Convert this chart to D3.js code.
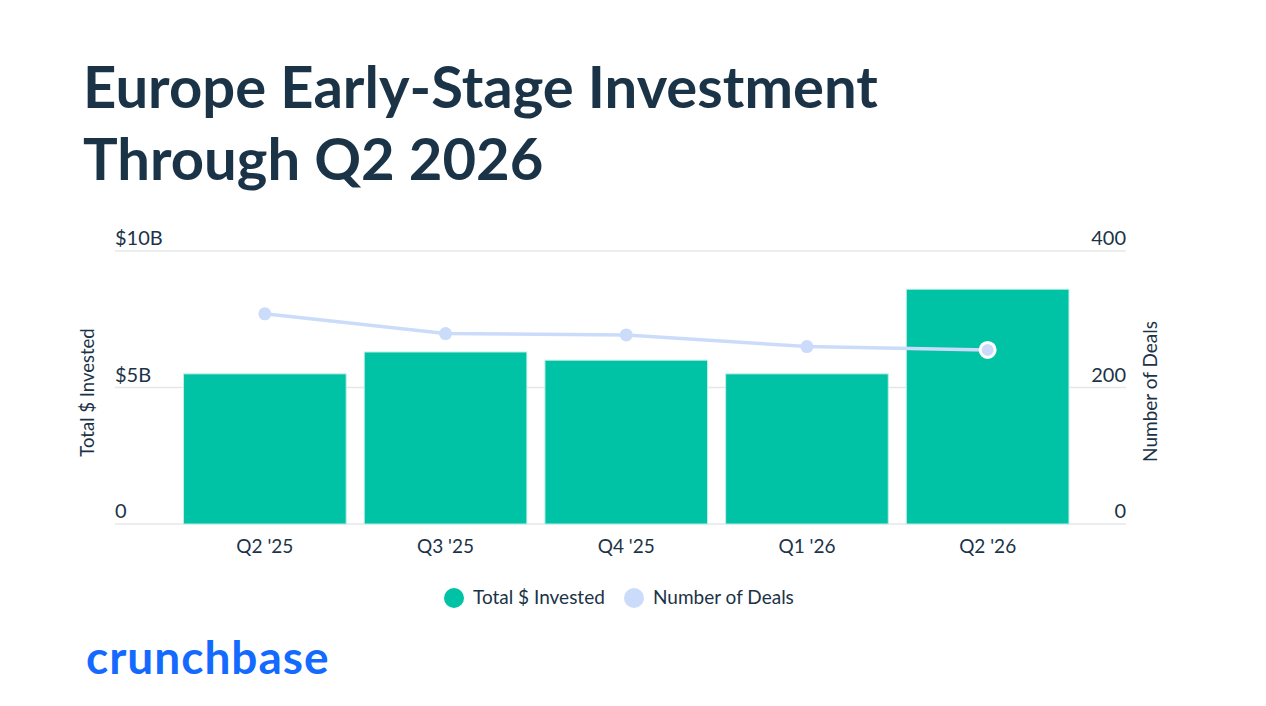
<!DOCTYPE html>
<html>
<head>
<meta charset="utf-8">
<script src="https://cdn.jsdelivr.net/npm/d3@7"></script>
<style>
  body { margin: 0; background: #fff; }
  svg { display: block; font-family: Lato, "Noto Sans", sans-serif; }
</style>
</head>
<body>
<div id="chart"></div>
<script>
// Data
const quarters = ["Q2 '25", "Q3 '25", "Q4 '25", "Q1 '26", "Q2 '26"];
const invested = [5.5, 6.3, 6.0, 5.5, 8.6];   // $B
const deals = [308, 279, 277, 260, 255];
const leftTicks = [0, 5, 10];
const rightTicks = [0, 200, 400];

const W = 1266, H = 706;
const ink = "#1b3347";

const svg = d3.select("#chart")
    .append("svg")
    .attr("width", W)
    .attr("height", H);

// Title
svg.append("text")
    .attr("x", 83)
    .attr("y", 108)
    .attr("font-size", 58)
    .attr("font-weight", 700)
    .attr("fill", ink)
    .text("Europe Early-Stage Investment");
svg.append("text")
    .attr("x", 83)
    .attr("y", 180)
    .attr("font-size", 58)
    .attr("font-weight", 700)
    .attr("fill", ink)
    .text("Through Q2 2026");

// Plot area
const plot = { left: 115, right: 1126, top: 251, bottom: 524 };

const x = d3.scaleBand()
    .domain(quarters)
    .range([174.5, 1078])
    .paddingInner(0.1)
    .paddingOuter(0.05);

const yL = d3.scaleLinear().domain([0, 10]).range([plot.bottom, plot.top]);
const yR = d3.scaleLinear().domain([0, 400]).range([plot.bottom, plot.top]);

// Gridlines
svg.append("g")
    .selectAll("line")
    .data(leftTicks)
    .join("line")
    .attr("x1", plot.left)
    .attr("x2", plot.right)
    .attr("y1", d => yL(d))
    .attr("y2", d => yL(d))
    .attr("stroke", "#e5e7ea")
    .attr("stroke-width", 1.5);

// Left tick labels
svg.append("g")
    .selectAll("text")
    .data(leftTicks)
    .join("text")
    .attr("x", plot.left)
    .attr("y", d => yL(d) - 6)
    .attr("font-size", 20)
    .attr("fill", ink)
    .text(d => d === 0 ? "0" : `$${d}B`);

// Right tick labels
svg.append("g")
    .selectAll("text")
    .data(rightTicks)
    .join("text")
    .attr("x", plot.right)
    .attr("y", d => yR(d) - 6)
    .attr("text-anchor", "end")
    .attr("font-size", 20)
    .attr("fill", ink)
    .text(d => d);

// Axis titles
svg.append("text")
    .attr("transform", `translate(94,${(plot.top + plot.bottom) / 2 + 5}) rotate(-90)`)
    .attr("text-anchor", "middle")
    .attr("font-size", 18.5)
    .attr("fill", ink)
    .text("Total $ Invested");

svg.append("text")
    .attr("transform", `translate(1157,${(plot.top + plot.bottom) / 2 + 4}) rotate(-90)`)
    .attr("text-anchor", "middle")
    .attr("font-size", 19)
    .attr("fill", ink)
    .text("Number of Deals");

// Bars
svg.append("g")
    .selectAll("rect")
    .data(quarters)
    .join("rect")
    .attr("x", d => x(d))
    .attr("width", x.bandwidth())
    .attr("y", (d, i) => yL(invested[i]))
    .attr("height", (d, i) => plot.bottom - yL(invested[i]))
    .attr("fill", "#00c2a5")
    .attr("stroke", "#bfeee5")
    .attr("stroke-width", 1);

// X labels
svg.append("g")
    .selectAll("text")
    .data(quarters)
    .join("text")
    .attr("x", d => x(d) + x.bandwidth() / 2)
    .attr("y", 553)
    .attr("text-anchor", "middle")
    .attr("font-size", 19)
    .attr("fill", ink)
    .text(d => d);

// Deals line
const line = d3.line()
    .x((d, i) => x(quarters[i]) + x.bandwidth() / 2)
    .y(d => yR(d));

svg.append("path")
    .datum(deals)
    .attr("d", line)
    .attr("fill", "none")
    .attr("stroke", "#cbdcfb")
    .attr("stroke-width", 3.5);

svg.append("g")
    .selectAll("circle")
    .data(deals)
    .join("circle")
    .attr("cx", (d, i) => x(quarters[i]) + x.bandwidth() / 2)
    .attr("cy", d => yR(d))
    .attr("r", (d, i) => i === deals.length - 1 ? 7.5 : 6.5)
    .attr("fill", "#cbdcfb")
    .attr("stroke", (d, i) => i === deals.length - 1 ? "#fff" : "none")
    .attr("stroke-width", 3);

// Legend
const legend = [
    { label: "Total $ Invested", color: "#00c2a5", cx: 454 },
    { label: "Number of Deals", color: "#cbdcfb", cx: 634 }
];
const lg = svg.append("g");
lg.selectAll("circle")
    .data(legend)
    .join("circle")
    .attr("cx", d => d.cx)
    .attr("cy", 598)
    .attr("r", 10)
    .attr("fill", d => d.color);
lg.selectAll("text")
    .data(legend)
    .join("text")
    .attr("x", d => d.cx + 19)
    .attr("y", 604)
    .attr("font-size", 19)
    .attr("fill", ink)
    .text(d => d.label);

// Brand
svg.append("text")
    .attr("x", 86)
    .attr("y", 674)
    .attr("font-size", 46)
    .attr("font-weight", 700)
    .attr("fill", "#146aff")
    .attr("letter-spacing", 1)
    .text("crunchbase");
</script>
</body>
</html>
